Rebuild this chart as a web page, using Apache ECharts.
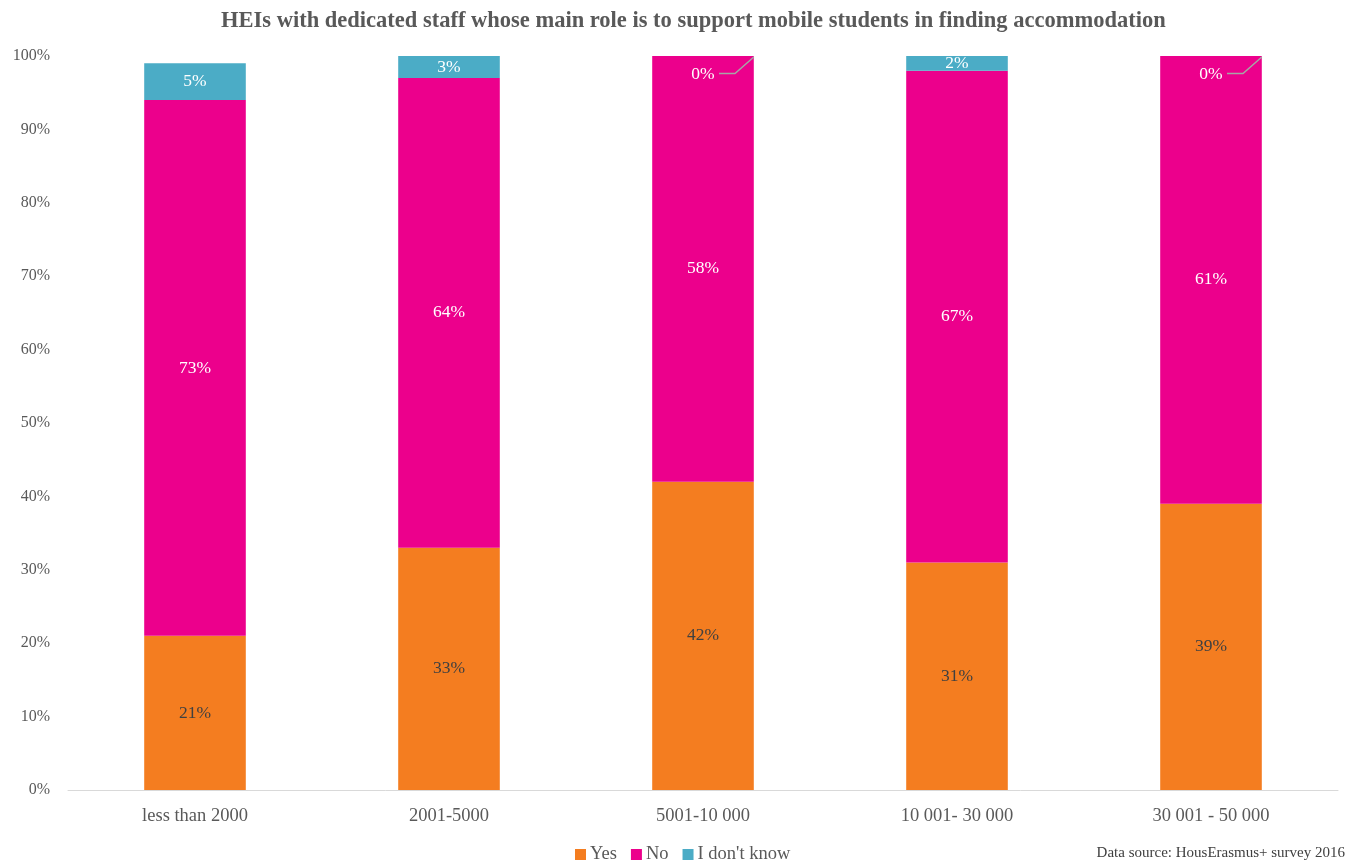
<!DOCTYPE html>
<html><head><meta charset="utf-8">
<script src="https://cdn.jsdelivr.net/npm/echarts@6/dist/echarts.min.js"></script>
<style>html,body{margin:0;padding:0;background:#fff}#c{width:1358px;height:861px}</style>
</head><body><div id="c"></div>
<script>
const categories = ['less than 2000', '2001-5000', '5001-10 000', '10 001- 30 000', '30 001 - 50 000'];
const yesValues = [21, 33, 42, 31, 39];
const noValues = [73, 64, 58, 67, 61];
const dontKnowValues = [5, 3, 0, 2, 0];
const seriesNames = ['Yes', 'No', "I don't know"];
const titleText = 'HEIs with dedicated staff whose main role is to support mobile students in finding accommodation';
const sourceText = 'Data source: HousErasmus+ survey 2016';

const FONT = '"Liberation Serif", "DejaVu Serif", serif';
const chart = echarts.init(document.getElementById('c'));
const lbl = (color) => ({show: true, position: 'inside', formatter: '{c}%', color: color, fontFamily: FONT, fontSize: 17.5});
chart.setOption({
  animation: false,
  title: {text: titleText, left: 221, top: 10, padding: 0,
    textStyle: {fontFamily: FONT, fontWeight: 'bold', fontSize: 22.5, color: '#595959'}},
  legend: {top: 845, left: 575, padding: 0, itemWidth: 11, itemHeight: 11, itemGap: 14,
    icon: 'rect', textStyle: {fontFamily: FONT, fontSize: 18.5, color: '#595959', padding: [0,0,0,-1]}},
  grid: {left: 68, right: 20, top: 56, bottom: 71},
  xAxis: {type: 'category', data: categories,
    axisLine: {lineStyle: {color: '#d9d9d9'}}, axisTick: {show: false},
    axisLabel: {fontFamily: FONT, fontSize: 18.5, color: '#595959', margin: 17}},
  yAxis: {type: 'value', min: 0, max: 100, interval: 10,
    axisLabel: {formatter: '{value}%', fontFamily: FONT, fontSize: 16, color: '#595959', margin: 18},
    splitLine: {show: false}, axisLine: {show: false}, axisTick: {show: false}},
  series: [
    {name: seriesNames[0], type: 'bar', stack: 's', data: yesValues, barWidth: '40%',
      itemStyle: {color: '#F47D20'}, label: lbl('#404040')},
    {name: seriesNames[1], type: 'bar', stack: 's', data: noValues,
      itemStyle: {color: '#EC008C'}, label: lbl('#ffffff')},
    {name: seriesNames[2], type: 'bar', stack: 's', data: dontKnowValues,
      itemStyle: {color: '#4BACC6'}, label: lbl('#ffffff'),
      labelLayout: function (p) {
        if (dontKnowValues[p.dataIndex] === 0) {
          return {x: p.rect.x + p.rect.width / 2, y: p.rect.y + 18, align: 'center', verticalAlign: 'middle'};
        }
        return {};
      }}
  ]
});

// Source note and leader lines for zero-value labels, positioned through the chart's scales
const gfx = [{type: 'text', right: 13, bottom: 0,
  style: {text: sourceText, fontFamily: FONT, fontSize: 15, fill: '#404040'}}];
const p0 = chart.convertToPixel({gridIndex: 0}, [0, 0]);
const p1 = chart.convertToPixel({gridIndex: 0}, [1, 0]);
const halfBar = (p1[0] - p0[0]) * 0.4 / 2;
dontKnowValues.forEach((v, i) => {
  if (v === 0) {
    const total = yesValues[i] + noValues[i];
    const pt = chart.convertToPixel({gridIndex: 0}, [i, total]);
    const cx = pt[0], yTop = pt[1];
    gfx.push({type: 'polyline', silent: true, z: 100,
      shape: {points: [[cx + 16, yTop + 17.5], [cx + 32, yTop + 17.5], [cx + halfBar, yTop + 1]]},
      style: {stroke: '#a6a6a6', lineWidth: 1.5, fill: null}});
  }
});
chart.setOption({graphic: gfx});
</script></body></html>
